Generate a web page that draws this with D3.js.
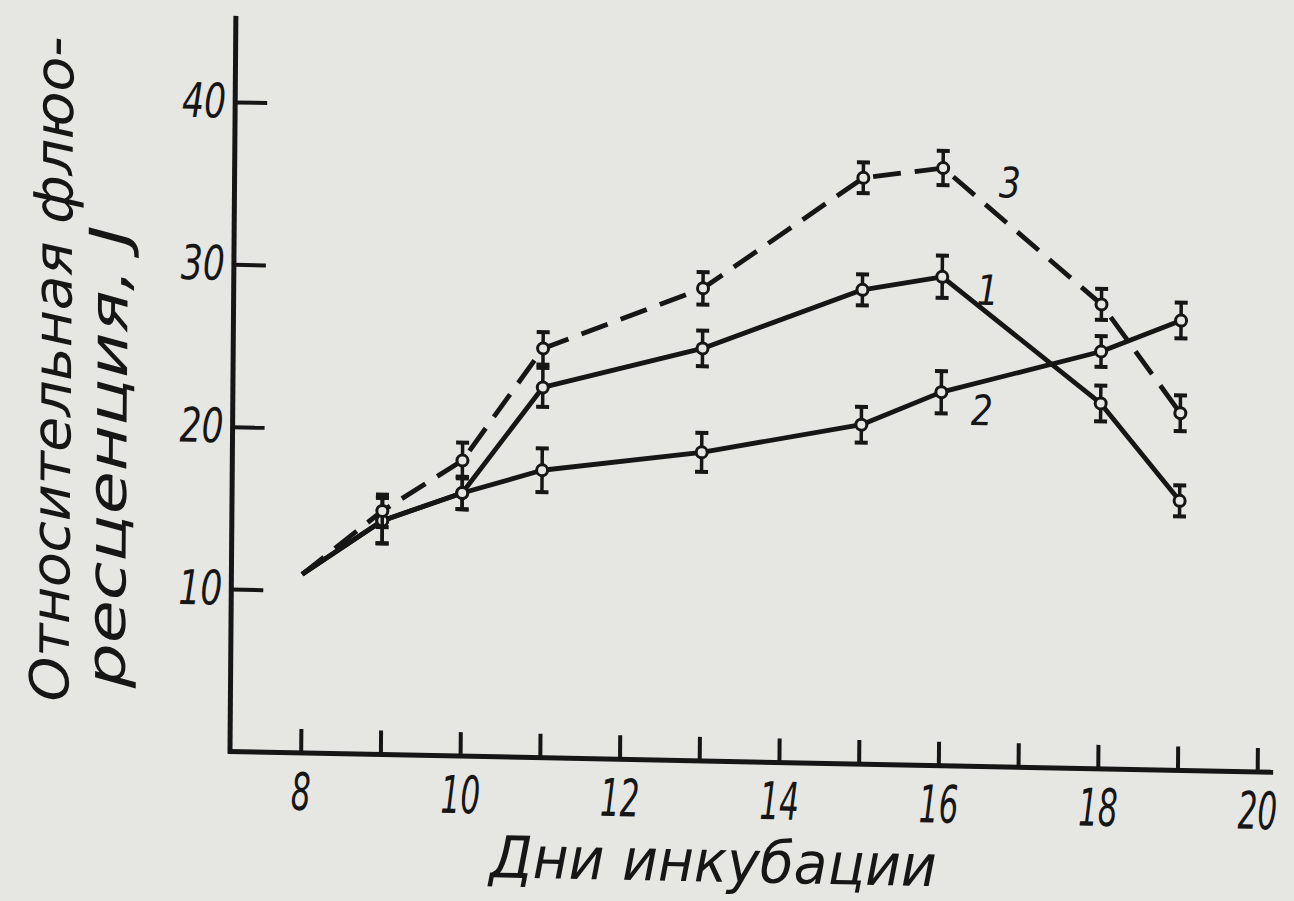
<!DOCTYPE html>
<html>
<head>
<meta charset="utf-8">
<script src="https://cdn.jsdelivr.net/npm/d3@7"></script>
<style>
  html, body { margin: 0; padding: 0; background: #e6e6e3; }
  svg { display: block; }
  text { font-family: "DejaVu Sans", "Liberation Sans", sans-serif; font-style: italic; fill: #161616; }
</style>
</head>
<body>
<svg id="chart" width="1294" height="901"></svg>
<script>
// Incubation days at which fluorescence was measured
const days = [8, 9, 10, 11, 13, 15, 16, 18, 19];

// Relative fluorescence, J, for the three curves
const series1 = [11.0, 14.4, 16.2, 22.8, 25.4, 29.2, 30.1, 22.5, 16.6];
const series2 = [11.0, 14.4, 16.2, 17.7, 19.0, 20.9, 23.0, 25.7, 27.7];
const series3 = [11.0, 15.0, 18.2, 25.2, 29.1, 36.1, 36.8, 28.6, 22.0];

// Half-widths of the error bars (no bar at the first point)
const err1 = [null, 1.4, 1.0, 1.2, 1.1, 0.95, 1.3, 1.1, 0.95];
const err2 = [null, 1.4, 1.0, 1.35, 1.2, 1.1, 1.3, 0.95, 1.1];
const err3 = [null, 1.0, 1.1, 1.0, 1.0, 0.95, 1.05, 0.95, 1.1];

// Axis ticks
const xTicks = [8, 9, 10, 11, 12, 13, 14, 15, 16, 17, 18, 19, 20];
const xTickLabels = ["8", "", "10", "", "12", "", "14", "", "16", "", "18", "", "20"];
const yTicks = [10, 20, 30, 40];
const yTickLabels = ["10", "20", "30", "40"];

// Curve numbers, anchored in data coordinates
const curveNames = ["1", "2", "3"];
const curveNameDay = [16.57, 16.51, 16.84];
const curveNameValue = [29.35, 21.95, 36.0];

const xTitle = "Дни инкубации";
const yTitle1 = "Относительная флюо-";
const yTitle2 = "ресценция, J";
const yAxisTop = 45.3;
const xAxisEnd = 20.2;

const ink = "#161616";
const svg = d3.select("#chart");
svg.append("rect").attr("width", 1294).attr("height", 901).attr("fill", "#e6e6e3");

// the drawing sits slightly askew on the page
const g = svg.append("g").attr("transform", "matrix(1,0.02,-0.008,1,6,-4.6)");

const x = d3.scaleLinear().domain([8, 20]).range([300.7, 1257.2]);
const y = d3.scaleLinear().domain([0, 40]).range([751.5, 101.9]);
const x0 = 230;

// axis lines
g.append("line")
  .attr("x1", x0).attr("x2", x0)
  .attr("y1", y(0) + 2).attr("y2", y(yAxisTop))
  .attr("stroke", ink).attr("stroke-width", 5);
g.append("line")
  .attr("x1", x0 - 2).attr("x2", x(xAxisEnd))
  .attr("y1", y(0)).attr("y2", y(0))
  .attr("stroke", ink).attr("stroke-width", 5);

// x axis: ticks point up into the plot, labels below in a narrow lettering
const xAxis = d3.axisBottom(x)
  .tickValues(xTicks)
  .tickFormat((d, i) => xTickLabels[i])
  .tickSizeInner(-24).tickSizeOuter(0).tickPadding(20);
const gx = g.append("g").attr("transform", `translate(0,${y(0)})`).call(xAxis);
gx.select(".domain").remove();
gx.selectAll(".tick line").attr("stroke", ink).attr("stroke-width", 4);
gx.selectAll(".tick text")
  .attr("font-size", 52)
  .attr("font-family", null)
  .attr("fill", ink)
  .attr("transform", "scale(0.6,1)");

// y axis: ticks point right into the plot, labels on the left
const yAxis = d3.axisLeft(y)
  .tickValues(yTicks)
  .tickFormat((d, i) => yTickLabels[i])
  .tickSizeInner(-32).tickSizeOuter(0).tickPadding(9);
const gy = g.append("g").attr("transform", `translate(${x0},0)`).call(yAxis);
gy.select(".domain").remove();
gy.selectAll(".tick line").attr("stroke", ink).attr("stroke-width", 4);
gy.selectAll(".tick text")
  .attr("font-size", 48)
  .attr("font-family", null)
  .attr("fill", ink)
  .attr("textLength", (d, i) => yTickLabels[i].length * 22)
  .attr("lengthAdjust", "spacingAndGlyphs");

// axis titles
g.append("text")
  .attr("x", 714).attr("y", 872)
  .attr("text-anchor", "middle")
  .attr("font-size", 58)
  .attr("textLength", 447).attr("lengthAdjust", "spacingAndGlyphs")
  .text(xTitle);

g.append("text")
  .attr("transform", "translate(68,705) rotate(-90)")
  .attr("font-size", 54)
  .attr("textLength", 665).attr("lengthAdjust", "spacingAndGlyphs")
  .text(yTitle1);
g.append("text")
  .attr("transform", "translate(124,690) rotate(-90)")
  .attr("font-size", 54)
  .attr("textLength", 462).attr("lengthAdjust", "spacingAndGlyphs")
  .text(yTitle2);

// curves
const line = d3.line().x((d, i) => x(days[i])).y(d => y(d));
const curves = [
  { values: series1, errors: err1, dash: null },
  { values: series2, errors: err2, dash: null },
  { values: series3, errors: err3, dash: "28 14" }
];

curves.forEach(c => {
  g.append("path")
    .attr("d", line(c.values))
    .attr("fill", "none")
    .attr("stroke", ink)
    .attr("stroke-width", 4.8)
    .attr("stroke-dasharray", c.dash)
    .attr("stroke-linejoin", "round");
});

// error bars with open circle markers
curves.forEach(c => {
  const pts = c.values.map((v, i) => ({ d: days[i], v, e: c.errors[i] })).filter(p => p.e != null);
  const m = g.append("g");
  const eb = m.selectAll("g.eb").data(pts).join("g").attr("class", "eb");
  eb.append("line")
    .attr("x1", p => x(p.d)).attr("x2", p => x(p.d))
    .attr("y1", p => y(p.v - p.e)).attr("y2", p => y(p.v + p.e))
    .attr("stroke", ink).attr("stroke-width", 3.5);
  eb.append("line")
    .attr("x1", p => x(p.d) - 6.5).attr("x2", p => x(p.d) + 6.5)
    .attr("y1", p => y(p.v + p.e)).attr("y2", p => y(p.v + p.e))
    .attr("stroke", ink).attr("stroke-width", 4);
  eb.append("line")
    .attr("x1", p => x(p.d) - 6.5).attr("x2", p => x(p.d) + 6.5)
    .attr("y1", p => y(p.v - p.e)).attr("y2", p => y(p.v - p.e))
    .attr("stroke", ink).attr("stroke-width", 4);
  eb.append("circle")
    .attr("cx", p => x(p.d)).attr("cy", p => y(p.v))
    .attr("r", 5.5)
    .attr("fill", "#e6e6e3")
    .attr("stroke", ink).attr("stroke-width", 3);
});

// curve numbers
g.selectAll("text.curve-name")
  .data(curveNames)
  .join("text")
  .attr("class", "curve-name")
  .attr("x", (d, i) => x(curveNameDay[i]))
  .attr("y", (d, i) => y(curveNameValue[i]))
  .attr("dy", "0.36em")
  .attr("text-anchor", "middle")
  .attr("font-size", 42)
  .attr("textLength", 22).attr("lengthAdjust", "spacingAndGlyphs")
  .text(d => d);
</script>
</body>
</html>
